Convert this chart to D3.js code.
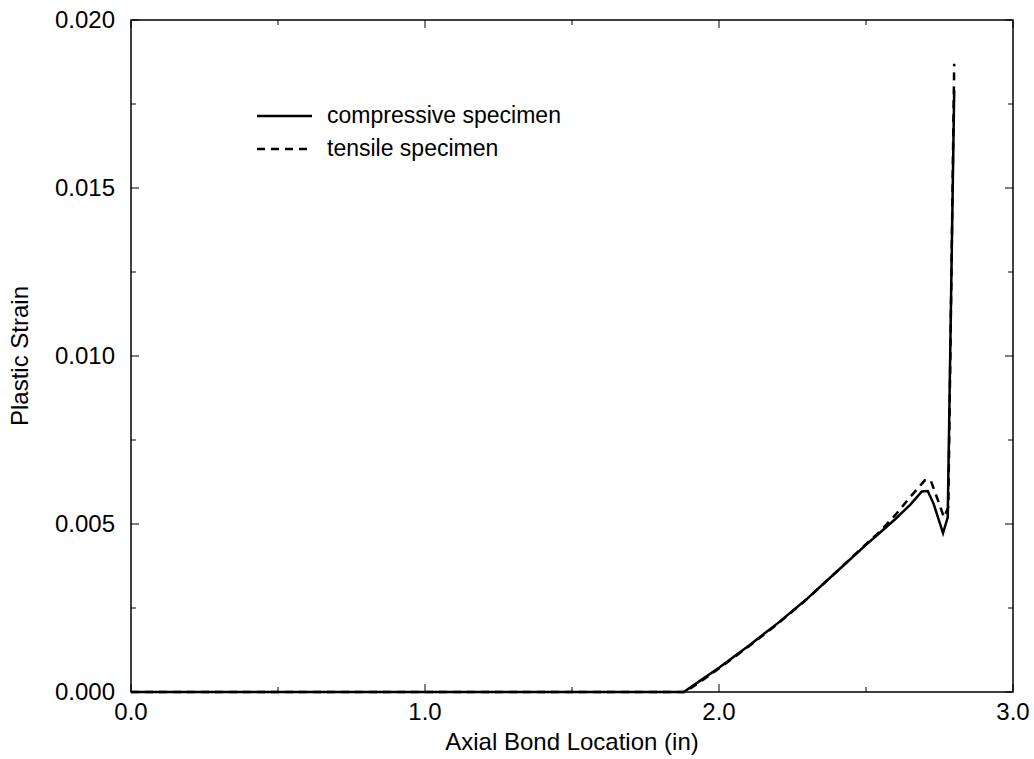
<!DOCTYPE html>
<html>
<head>
<meta charset="utf-8">
<script src="https://cdn.jsdelivr.net/npm/d3@7"></script>
<style>
  body { margin: 0; background: #fff; }
  svg text { font-family: "Liberation Sans", Arial, sans-serif; fill: #000; }
</style>
</head>
<body>
<div id="chart"></div>
<script>
// series: axial bond location (in) vs plastic strain
const compX = [0.0, 1.88, 1.95, 2.0, 2.1, 2.2, 2.3, 2.4, 2.5, 2.55, 2.6, 2.65, 2.69, 2.71, 2.73, 2.762, 2.778, 2.80];
const compY = [0.0, 0.0, 0.00042, 0.00072, 0.00137, 0.00205, 0.00278, 0.00358, 0.00438, 0.00476, 0.00515, 0.00557, 0.00597, 0.00598, 0.0056, 0.00473, 0.0052, 0.0179];
const tensX = [0.0, 1.885, 1.95, 2.0, 2.1, 2.2, 2.3, 2.4, 2.5, 2.55, 2.6, 2.65, 2.7, 2.72, 2.745, 2.765, 2.78, 2.80];
const tensY = [0.0, 0.0, 0.00039, 0.0007, 0.00135, 0.00203, 0.00277, 0.00358, 0.0044, 0.0048, 0.00527, 0.0058, 0.0063, 0.0063, 0.0057, 0.0052, 0.0055, 0.0187];

const xTicks = [0, 0.5, 1, 1.5, 2, 2.5, 3];
const xLabels = ["0.0", "", "1.0", "", "2.0", "", "3.0"];
const yTicks = [0, 0.0025, 0.005, 0.0075, 0.01, 0.0125, 0.015, 0.0175, 0.02];
const yLabels = ["0.000", "", "0.005", "", "0.010", "", "0.015", "", "0.020"];

const seriesNames = ["compressive specimen", "tensile specimen"];

const W = 1034, H = 759;
const margin = { top: 20, right: 21, bottom: 67, left: 131 };
const pw = W - margin.left - margin.right;
const ph = H - margin.top - margin.bottom;

const svg = d3.select("#chart").append("svg")
  .attr("width", W)
  .attr("height", H);

const g = svg.append("g")
  .attr("transform", `translate(${margin.left},${margin.top})`);

const x = d3.scaleLinear().domain([0, 3]).range([0, pw]);
const y = d3.scaleLinear().domain([0, 0.02]).range([ph, 0]);

const line = d3.line()
  .x(d => x(d[0]))
  .y(d => y(d[1]));

const compData = compX.map((v, i) => [v, compY[i]]);
const tensData = tensX.map((v, i) => [v, tensY[i]]);

g.append("path")
  .datum(tensData)
  .attr("d", line)
  .attr("fill", "none")
  .attr("stroke", "#000")
  .attr("stroke-width", 2.5)
  .attr("stroke-dasharray", "8,6");

g.append("path")
  .datum(compData)
  .attr("d", line)
  .attr("fill", "none")
  .attr("stroke", "#000")
  .attr("stroke-width", 2.5);

// frame
g.append("rect")
  .attr("x", 0).attr("y", 0)
  .attr("width", pw).attr("height", ph)
  .attr("fill", "none")
  .attr("stroke", "#000")
  .attr("stroke-width", 1.5);

// ticks pointing inward on all four sides
const tickLen = (lab) => lab ? 8 : 5;

xTicks.forEach((t, i) => {
  const len = tickLen(xLabels[i]);
  g.append("line")
    .attr("x1", x(t)).attr("x2", x(t))
    .attr("y1", ph).attr("y2", ph - len)
    .attr("stroke", "#000");
  g.append("line")
    .attr("x1", x(t)).attr("x2", x(t))
    .attr("y1", 0).attr("y2", len)
    .attr("stroke", "#000");
  if (xLabels[i]) {
    g.append("text")
      .attr("x", x(t))
      .attr("y", ph + 28)
      .attr("text-anchor", "middle")
      .style("font-size", "24px")
      .text(xLabels[i]);
  }
});

yTicks.forEach((t, i) => {
  const len = tickLen(yLabels[i]);
  g.append("line")
    .attr("x1", 0).attr("x2", len)
    .attr("y1", y(t)).attr("y2", y(t))
    .attr("stroke", "#000");
  g.append("line")
    .attr("x1", pw).attr("x2", pw - len)
    .attr("y1", y(t)).attr("y2", y(t))
    .attr("stroke", "#000");
  if (yLabels[i]) {
    g.append("text")
      .attr("x", -16)
      .attr("y", y(t))
      .attr("dy", "0.35em")
      .attr("text-anchor", "end")
      .style("font-size", "24px")
      .text(yLabels[i]);
  }
});

// axis titles
svg.append("text")
  .attr("x", margin.left + pw / 2)
  .attr("y", 750)
  .attr("text-anchor", "middle")
  .style("font-size", "24px")
  .text("Axial Bond Location (in)");

svg.append("text")
  .attr("transform", `translate(28,${margin.top + ph / 2}) rotate(-90)`)
  .attr("text-anchor", "middle")
  .style("font-size", "24px")
  .text("Plastic Strain");

// legend
const legend = svg.append("g").attr("class", "legend");
seriesNames.forEach((name, i) => {
  const ly = 116 + i * 33;
  legend.append("line")
    .attr("x1", 257).attr("x2", 312)
    .attr("y1", ly).attr("y2", ly)
    .attr("stroke", "#000")
    .attr("stroke-width", 2.5)
    .attr("stroke-dasharray", i === 1 ? "8,6" : null);
  legend.append("text")
    .attr("x", 327)
    .attr("y", ly)
    .attr("dy", "0.32em")
    .style("font-size", "23px")
    .text(name);
});
</script>
</body>
</html>
